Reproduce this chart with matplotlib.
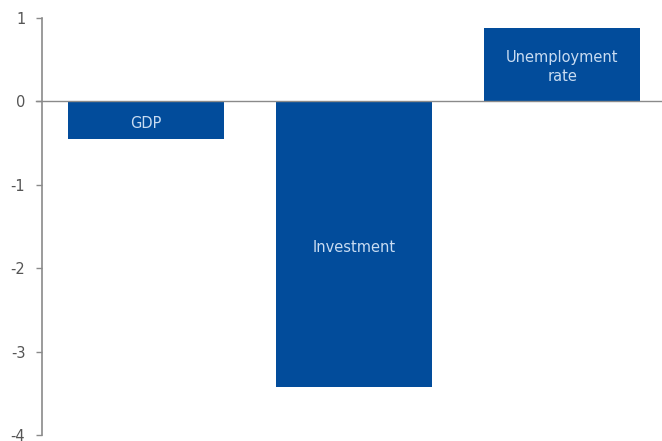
import matplotlib.pyplot as plt

# Change in each indicator
labels = ["GDP", "Investment", "Unemployment\nrate"]
values = [-0.455, -3.43, 0.875]
yticks = [1, 0, -1, -2, -3, -4]

BAR_COLOR = "#024c9b"
TEXT_COLOR = "#c9dcf2"
AXIS_COLOR = "#8a8a8a"

fig = plt.figure(figsize=(6.62, 4.41), dpi=100)
ax = fig.add_axes([0.0634, 0.0136, 0.9366, 0.9456])

x = range(len(values))
ax.bar(x, values, width=0.75, color=BAR_COLOR)

# label inside each bar, near the middle
label_y = [-0.27, -1.75, 0.41]
for i, lab in enumerate(labels):
    ax.text(i, label_y[i], lab, ha="center", va="center", color=TEXT_COLOR,
            fontsize=10.5, linespacing=1.3)

ax.axhline(0, color=AXIS_COLOR, lw=1, xmin=-0.01, clip_on=False)

ax.set_xlim(-0.5, 2.48)
ax.set_ylim(-4, 1)
ax.set_yticks(yticks)
ax.set_yticklabels([str(t) for t in yticks])
ax.set_xticks([])

for s in ["top", "right", "bottom"]:
    ax.spines[s].set_visible(False)
ax.spines["left"].set_color(AXIS_COLOR)
ax.spines["left"].set_linewidth(1.2)
ax.tick_params(axis="y", direction="out", length=4, width=1, color=AXIS_COLOR,
               labelcolor="#555555", labelsize=10.5, pad=8)

fig.savefig("out.png", dpi=100)
